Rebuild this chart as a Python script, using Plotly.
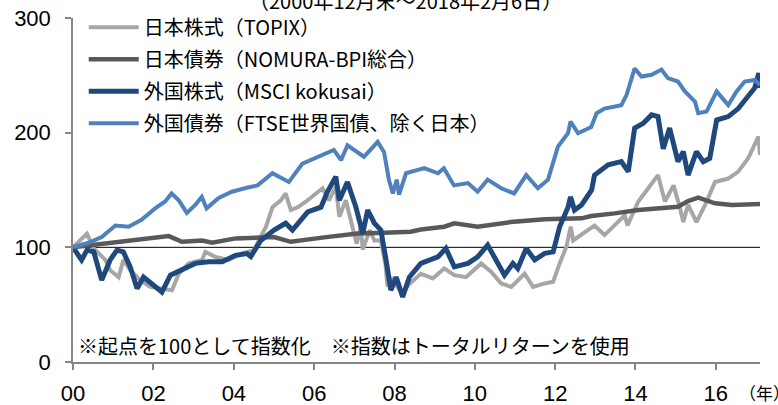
import plotly.graph_objects as go

# ---------------- data ----------------
topix_dates = ["2000-12-29", "2001-05-05", "2001-07-06", "2001-10-19", "2001-12-02", "2002-02-17",
               "2002-04-01", "2002-06-02", "2002-09-02", "2002-12-02", "2003-03-18", "2003-06-17",
               "2003-08-18", "2003-11-17", "2004-03-17", "2004-04-16", "2004-07-16", "2004-11-13",
               "2005-03-14", "2005-07-01", "2005-10-19", "2005-12-17", "2006-03-03", "2006-04-16",
               "2006-06-02", "2006-08-04", "2006-10-16", "2007-01-30", "2007-03-18", "2007-05-15",
               "2007-07-16", "2007-08-17", "2007-10-15", "2008-01-22", "2008-02-28", "2008-03-17",
               "2008-05-20", "2008-07-01", "2008-08-29", "2008-10-10", "2008-10-28", "2008-12-10",
               "2009-03-10", "2009-05-15", "2009-08-28", "2009-12-13", "2010-03-28", "2010-06-28",
               "2010-10-12", "2011-02-28", "2011-05-30", "2011-08-28", "2011-11-28", "2012-03-28",
               "2012-06-13", "2012-09-27", "2012-12-13", "2013-02-10", "2013-04-12", "2013-05-22",
               "2013-06-13", "2013-09-08", "2013-12-24", "2014-03-25", "2014-06-25", "2014-09-25",
               "2014-10-20", "2015-01-26", "2015-04-27", "2015-07-24", "2015-09-25", "2015-12-13",
               "2016-02-10", "2016-03-10", "2016-04-23", "2016-07-08", "2016-09-25", "2016-12-24",
               "2017-04-23", "2017-07-23", "2017-10-22", "2018-01-22", "2018-02-06"]
topix_values = [100, 112, 99, 89, 80, 74,
                89, 80, 71.4, 65.5, 64, 62.6,
                77, 86, 89, 96, 91.7, 89,
                94.7, 97.6, 118, 135, 141, 147,
                132.5, 135, 139.8, 148.5, 151.5, 141,
                153, 126.7, 141, 103, 118, 98,
                115, 106, 106, 85, 66, 72,
                60, 68, 77, 72.9, 81.6, 75.7,
                74, 86, 78.6, 68.5, 65.5, 77,
                65.5, 68.5, 70, 86, 100.5, 118,
                106, 112, 119, 110.7, 119, 128,
                119, 140, 151.5, 163, 140, 154,
                134, 122, 137, 122, 137, 157,
                160, 166, 177.7, 196.6, 180.6]

nomura_dates = ["2000-12-29", "2001-09-16", "2002-07-20", "2003-05-19", "2003-09-16", "2004-03-17",
                "2004-06-17", "2005-01-15", "2005-12-31", "2006-06-02", "2007-04-01", "2008-01-30",
                "2008-09-30", "2009-05-27", "2009-08-28", "2010-03-28", "2010-06-28", "2011-01-26",
                "2011-11-24", "2012-09-27", "2013-08-28", "2013-11-24", "2014-06-25", "2015-01-26",
                "2016-01-22", "2016-04-23", "2016-07-24", "2016-12-24", "2017-05-27", "2018-02-06"]
nomura_values = [100, 102.8, 106, 109.8, 104.8, 106,
                 104, 107.8, 109, 104.8, 108.7, 112,
                 112.7, 113.6, 115.5, 118, 121, 118,
                 122, 124.4, 125.3, 127.3, 129.6, 132.5,
                 135.4, 140.4, 143.3, 138.4, 137, 137.8]

msci_dates = ["2000-12-29", "2001-03-17", "2001-05-05", "2001-07-06", "2001-09-16", "2001-12-02",
              "2002-02-02", "2002-04-01", "2002-06-02", "2002-08-04", "2002-10-01", "2002-12-16",
              "2003-03-18", "2003-06-03", "2003-09-16", "2004-01-15", "2004-05-15", "2004-09-16",
              "2005-01-15", "2005-04-30", "2005-06-03", "2005-09-02", "2005-12-31", "2006-04-16",
              "2006-06-17", "2006-11-03", "2007-03-03", "2007-05-01", "2007-07-16", "2007-08-17",
              "2007-10-30", "2008-01-15", "2008-03-17", "2008-05-01", "2008-07-01", "2008-08-29",
              "2008-10-15", "2008-11-28", "2009-01-15", "2009-03-15", "2009-05-15", "2009-08-28",
              "2010-01-30", "2010-04-12", "2010-06-28", "2010-10-30", "2011-01-26", "2011-04-27",
              "2011-07-12", "2011-09-27", "2011-12-13", "2012-01-26", "2012-04-12", "2012-06-28",
              "2012-09-27", "2012-12-13", "2013-02-10", "2013-04-27", "2013-05-20", "2013-06-25",
              "2013-08-28", "2013-11-28", "2013-12-24", "2014-04-27", "2014-08-25", "2014-10-27",
              "2014-12-24", "2015-03-10", "2015-05-27", "2015-07-24", "2015-09-10", "2015-11-07",
              "2016-01-22", "2016-03-10", "2016-04-23", "2016-07-08", "2016-09-08", "2016-11-06",
              "2017-01-08", "2017-04-23", "2017-07-23", "2017-10-08", "2017-12-20", "2018-01-26",
              "2018-02-06"]
msci_values = [100, 89, 97.6, 96, 71.4, 89,
               97.6, 96, 83, 64, 74, 68.5,
               61, 75.7, 80, 86, 87.4, 87.4,
               93, 94.6, 92, 106, 115, 121,
               115, 131, 135, 148.5, 161.6, 141,
               157, 135, 112, 132.5, 121, 115,
               89, 62.6, 74, 56.8, 74, 86,
               91.7, 99, 83, 86, 91.7, 102,
               89, 75.7, 86, 81.6, 99, 89,
               94.7, 96, 118, 135, 144, 132.5,
               137, 150, 163, 172, 174.7, 166,
               204, 208, 215.5, 214, 186, 204,
               174.7, 183.5, 163, 183.5, 174.7, 177.7,
               211, 214, 221, 230, 239, 252,
               239]

ftse_dates = ["2000-12-29", "2001-05-19", "2001-09-16", "2002-01-19", "2002-05-19", "2002-09-13",
              "2003-01-15", "2003-04-16", "2003-06-13", "2003-08-18", "2003-10-30", "2004-01-15",
              "2004-03-14", "2004-04-27", "2004-08-15", "2004-12-13", "2005-04-27", "2005-08-04",
              "2005-12-17", "2006-05-15", "2006-09-16", "2007-03-03", "2007-06-28", "2007-09-02",
              "2007-10-30", "2008-03-28", "2008-07-31", "2008-09-27", "2008-11-10", "2008-12-16",
              "2009-01-20", "2009-02-10", "2009-04-15", "2009-07-31", "2009-09-27", "2010-01-30",
              "2010-03-25", "2010-06-25", "2010-10-30", "2011-01-26", "2011-04-27", "2011-08-28",
              "2011-12-24", "2012-04-12", "2012-07-27", "2012-10-27", "2013-01-26", "2013-04-27",
              "2013-05-20", "2013-07-27", "2013-11-24", "2014-01-12", "2014-03-25", "2014-08-25",
              "2014-10-12", "2014-12-24", "2015-02-24", "2015-05-27", "2015-08-25", "2015-10-22",
              "2016-01-22", "2016-03-25", "2016-06-25", "2016-07-24", "2016-10-08", "2017-01-08",
              "2017-04-23", "2017-07-08", "2017-09-20", "2017-12-20", "2018-02-06"]
ftse_values = [100, 104, 109, 119, 118, 124,
               134, 140, 147, 141, 130, 137,
               144, 134, 143, 148.5, 152, 154,
               164.6, 157, 173, 180.6, 185, 176,
               189, 179, 192, 183, 159, 147,
               159, 146, 164.6, 167.5, 169, 164.6,
               169, 154, 156, 148.5, 159, 151.5,
               147, 163, 151.5, 159, 188, 199.5,
               209.7, 199.5, 205, 217, 221, 224,
               233, 256, 249, 250.5, 255, 247.6,
               244.6, 236, 227, 217, 218.4, 236,
               224, 236, 244.6, 246, 241.7]

series_names = ["日本株式（TOPIX）", "日本債券（NOMURA-BPI総合）",
                "外国株式（MSCI kokusai）", "外国債券（FTSE世界国債、除く日本）"]
series_colors = ["#A6A6A6", "#595959", "#1F497D", "#4F81BD"]

x_tick_dates = ["2000-12-29", "2002-12-31", "2004-12-31", "2006-12-31", "2008-12-31",
                "2010-12-31", "2012-12-31", "2014-12-31", "2016-12-31"]
x_tick_text = ["00", "02", "04", "06", "08", "10", "12", "14", "16"]
y_tick_vals = [0, 100, 200, 300]
base_value = 100

title_text = "（2000年12月末～2018年2月6日）"
note_text = "※起点を100として指数化　※指数はトータルリターンを使用"
x_unit_text = "（年）"

# ---------------- figure ----------------
CJK = "Noto Sans CJK JP"
fig = go.Figure()

all_dates = [topix_dates, nomura_dates, msci_dates, ftse_dates]
all_values = [topix_values, nomura_values, msci_values, ftse_values]
widths = [4, 4.5, 5, 4]
for i in range(4):
    fig.add_trace(go.Scatter(
        x=all_dates[i], y=all_values[i], mode="lines",
        name=series_names[i], legendgroup=f"g{i}",
        line=dict(color=series_colors[i], width=widths[i]),
    ))

fig.add_hline(y=base_value, line=dict(color="black", width=1), layer="below")

axis_gray = "#868686"
fig.update_layout(
    width=778, height=405,
    margin=dict(l=73, r=18, t=18, b=43, autoexpand=False),
    paper_bgcolor="white", plot_bgcolor="white",
    showlegend=True,
    legend=dict(
        x=0.0156, y=1.030, xanchor="left", yanchor="top",
        font=dict(family=CJK, size=20, color="black"),
        bgcolor="rgba(0,0,0,0)",
        traceorder="grouped", tracegroupgap=3,
        itemwidth=50,
    ),
    xaxis=dict(
        type="date", automargin=False,
        range=["2000-12-29", "2018-02-06"],
        tickmode="array", tickvals=x_tick_dates, ticktext=x_tick_text,
        ticks="outside", ticklen=6, tickcolor=axis_gray, tickwidth=1.5,
        showline=True, linecolor=axis_gray, linewidth=1.5,
        showgrid=False, zeroline=False,
        tickfont=dict(family="Liberation Sans", size=22, color="black"),
        ticklabelstandoff=5,
    ),
    yaxis=dict(
        range=[0, 300], automargin=False,
        tickmode="array", tickvals=y_tick_vals,
        ticks="outside", ticklen=6, tickcolor=axis_gray, tickwidth=1.5,
        showline=True, linecolor=axis_gray, linewidth=1.5,
        showgrid=False, zeroline=False,
        tickfont=dict(family="Liberation Sans", size=22, color="black"),
        ticklabelstandoff=10,
    ),
    annotations=[
        dict(text=title_text, xref="paper", yref="paper", x=0.4847, y=1.052,
             xanchor="center", yanchor="middle", showarrow=False,
             font=dict(family=CJK, size=20, color="black")),
        dict(text=note_text, xref="paper", yref="paper", x=0.005, y=0.049,
             xanchor="left", yanchor="middle", showarrow=False,
             font=dict(family=CJK, size=20, color="black")),
        dict(text=x_unit_text, xref="paper", yref="paper", x=0.9665, y=-0.088,
             xanchor="left", yanchor="middle", showarrow=False,
             font=dict(family=CJK, size=17, color="black")),
    ],
)

fig.write_html("out.html", config={"displayModeBar": False},
               post_script="document.body.style.margin='0';")
